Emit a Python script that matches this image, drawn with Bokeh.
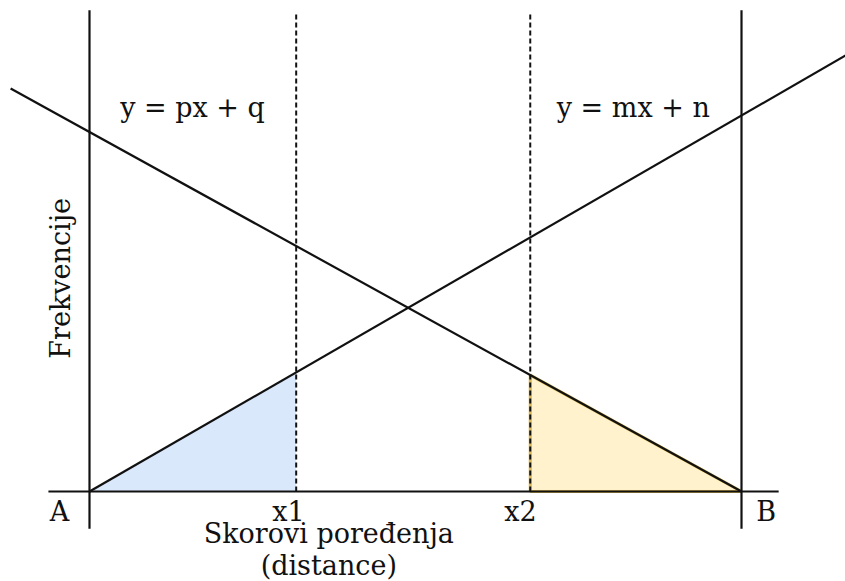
from bokeh.plotting import figure
from bokeh.models import Range1d
from bokeh.embed import file_html
from bokeh.resources import INLINE
from bokeh.core.properties import value

# Chart values (units: A = 0, B = 10 on the score axis)
A_X = 0.0
B_X = 10.0
X1 = 3.17
X2 = 6.76
TOP_Y = 7.38
BOTTOM_Y = -0.57
AXIS_X = [-0.63, 10.57]

rise_x = [0.0, 11.6]
rise_y = [0.0, 6.69]
fall_x = [-1.21, 10.0]
fall_y = [6.18, 0.0]

blue_x = [0.0, X1, X1]
blue_y = [0.0, 0.0, 1.83]
yellow_x = [X2, X2, 10.0]
yellow_y = [0.0, 1.785, 0.0]

label_text = ["y = px + q", "y = mx + n", "A", "B", "x1", "x2", "Skorovi poređenja", "(distance)"]
label_x = [1.58, 8.34, -0.46, 10.38, 3.05, 6.61, 3.67, 3.67]
label_y = [5.89, 5.89, -0.31, -0.31, -0.31, -0.31, -0.64, -1.13]
ylabel = "Frekvencije"

FONT = value("DejaVu Serif")
INK = "#111111"

p = figure(width=845, height=581, output_backend="svg", toolbar_location=None,
           x_range=Range1d(-1.365, 11.595), y_range=Range1d(-1.380, 7.531),
           min_border=0, min_border_left=0, min_border_right=0,
           min_border_top=0, min_border_bottom=0)
p.axis.visible = False
p.grid.visible = False
p.outline_line_color = None
p.background_fill_color = "white"
p.border_fill_color = "white"

p.patch(blue_x, blue_y, fill_color="#dae8fc", line_color=None)
p.patch(yellow_x, yellow_y, fill_color="#fff2cc", line_color="#d6b656", line_width=3)

p.line(AXIS_X, [0, 0], line_color=INK, line_width=2.2)
p.line([A_X, A_X], [BOTTOM_Y, TOP_Y], line_color=INK, line_width=2.2)
p.line([B_X, B_X], [BOTTOM_Y, TOP_Y], line_color=INK, line_width=2.2)
p.line([X1, X1], [0, 7.35], line_color=INK, line_width=2, line_dash="5 3")
p.line([X2, X2], [0, 7.35], line_color=INK, line_width=2, line_dash="5 3")

p.line(rise_x, rise_y, line_color=INK, line_width=2.2)
p.line(fall_x, fall_y, line_color=INK, line_width=2.2)

p.text(x=label_x, y=label_y, text=label_text, text_font=FONT, text_font_size="27px",
       text_align="center", text_baseline="middle", text_color=INK)
p.text(x=[-0.44], y=[3.27], text=[ylabel], angle=1.5708, text_font=FONT,
       text_font_size="27px", text_align="center", text_baseline="middle", text_color=INK)

open("out.html", "w").write(file_html(p, INLINE))
